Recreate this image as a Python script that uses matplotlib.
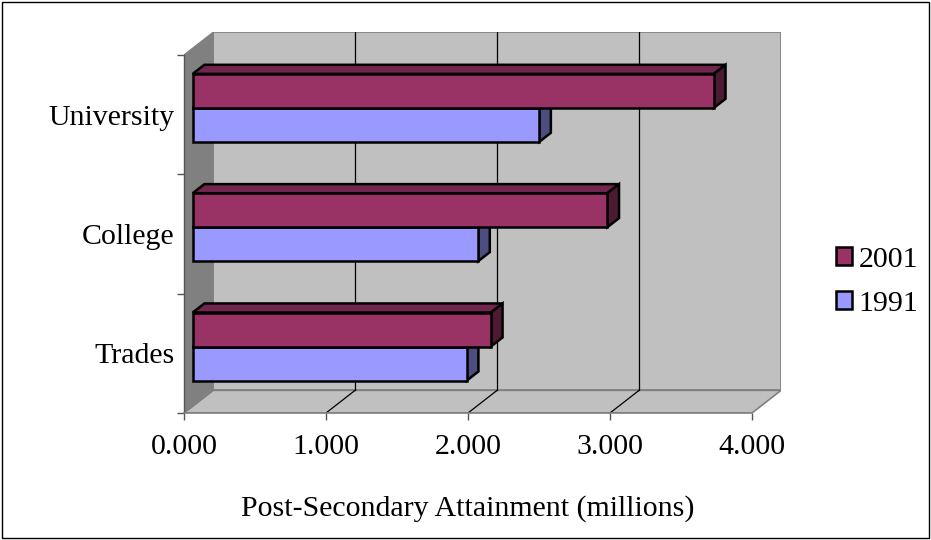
import numpy as np
import matplotlib
matplotlib.use("Agg")
import matplotlib.pyplot as plt
from matplotlib.patches import Polygon, Patch, Rectangle

categories = ["Trades", "College", "University"]
years = ["2001", "1991"]
values_2001 = [2.10, 2.92, 3.67]
values_1991 = [1.93, 2.01, 2.44]
xticks = [0, 1, 2, 3, 4]
xtick_labels = ["0.000", "1.000", "2.000", "3.000", "4.000"]

plt.rcParams['font.family'] = ['Liberation Serif', 'DejaVu Serif']
FS = 21.5

# oblique 3d look like the old excel charts
DX = 0.205   # depth offset along the value axis
DY = 0.19    # depth offset along the category axis
D0, D1 = 0.3, 0.7   # where the bars sit in depth
BAR_H = 0.285

def shade(color, f):
    c = np.array(matplotlib.colors.to_rgb(color))
    return tuple(c * f)

def bar3d(ax, y0, val, color, z):
    x0 = D0 * DX
    yb = y0 + D0 * DY
    ddx = (D1 - D0) * DX
    ddy = (D1 - D0) * DY
    front = [(x0, yb), (x0 + val, yb), (x0 + val, yb + BAR_H), (x0, yb + BAR_H)]
    top = [(x0, yb + BAR_H), (x0 + val, yb + BAR_H),
           (x0 + val + ddx, yb + BAR_H + ddy), (x0 + ddx, yb + BAR_H + ddy)]
    side = [(x0 + val, yb), (x0 + val + ddx, yb + ddy),
            (x0 + val + ddx, yb + BAR_H + ddy), (x0 + val, yb + BAR_H)]
    for pts, f in [(top, 0.75), (side, 0.5), (front, 1.0)]:
        ax.add_patch(Polygon(pts, closed=True, facecolor=shade(color, f),
                             edgecolor='black', linewidth=1.8, zorder=z,
                             joinstyle='miter'))

fig = plt.figure(figsize=(9.31, 5.40), dpi=100)
ax = fig.add_axes([184 / 931, 127 / 540, (4 + DX) * 142 / 931, (3 + DY) * 119.33 / 540])
ax.set_xlim(0, 4 + DX)
ax.set_ylim(0, 3 + DY)

# walls
back = [(DX, DY), (4 + DX, DY), (4 + DX, 3 + DY), (DX, 3 + DY)]
floor = [(0, 0), (4, 0), (4 + DX, DY), (DX, DY)]
sidewall = [(0, 0), (DX, DY), (DX, 3 + DY), (0, 3)]
ax.add_patch(Polygon(back, facecolor='#C0C0C0', edgecolor='#808080', linewidth=1.2, zorder=0))
ax.add_patch(Polygon(floor, facecolor='#C0C0C0', edgecolor='#808080', linewidth=1.2, zorder=0))
ax.add_patch(Polygon(sidewall, facecolor='#808080', edgecolor='#808080', linewidth=1.0, zorder=0))
for x in xticks[1:-1]:
    ax.plot([x + DX, x + DX], [DY, 3 + DY], color='black', linewidth=0.9, zorder=1)
    ax.plot([x, x + DX], [0, DY], color='black', linewidth=0.9, zorder=1)

colors = {"2001": "#993366", "1991": "#9999FF"}
for i, cat in enumerate(categories):
    center = i + 0.5
    bar3d(ax, center - BAR_H, values_1991[i], colors["1991"], 3 + 2 * i)
    bar3d(ax, center, values_2001[i], colors["2001"], 4 + 2 * i)

# axes
for s in ['top', 'right']:
    ax.spines[s].set_visible(False)
ax.spines['left'].set_bounds(0, 3)
ax.spines['bottom'].set_bounds(0, 4)
ax.spines['left'].set_color('#555555')
ax.spines['bottom'].set_color('#808080')
ax.spines['left'].set_linewidth(1.0)
ax.spines['bottom'].set_linewidth(1.2)
ax.spines['left'].set_zorder(2)
ax.spines['bottom'].set_zorder(2)

ax.set_xticks(xticks)
ax.set_xticklabels(xtick_labels, fontsize=FS)
ax.set_yticks([0, 1, 2, 3])
ax.set_yticklabels([])
ax.set_yticks([0.5, 1.5, 2.5], minor=True)
ax.set_yticklabels(categories, minor=True, fontsize=FS)
ax.tick_params(axis='x', length=5, width=1, color='#555555', pad=10)
ax.tick_params(axis='y', which='major', length=5, width=1, color='#555555')
ax.tick_params(axis='y', which='minor', length=0, pad=7)

ax.set_xlabel("Post-Secondary Attainment (millions)", fontsize=FS)
ax.xaxis.set_label_coords(2 / (4 + DX), -0.215)

handles = [Patch(facecolor=colors[y], edgecolor='black', linewidth=1.8, label=y) for y in years]
fig.legend(handles=handles, loc='center left', bbox_to_anchor=(836 / 931, 1 - 282 / 540),
           frameon=False, fontsize=FS, handlelength=0.55, handleheight=0.55,
           handletextpad=0.2, labelspacing=0.6, borderaxespad=0, borderpad=0)

fig.patches.append(Rectangle((2 / 931, 2 / 540), 927 / 931, 536 / 540, transform=fig.transFigure,
                             fill=False, edgecolor='black', linewidth=1.0))

fig.savefig("out.png", dpi=100)
